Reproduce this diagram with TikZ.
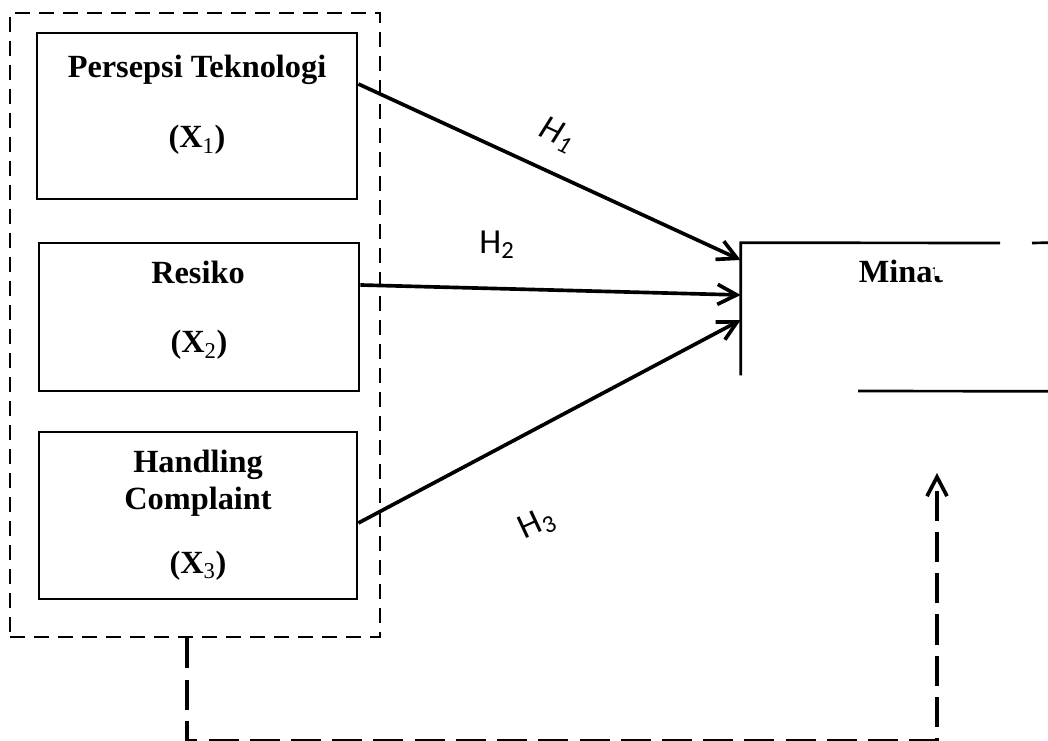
\documentclass[tikz,border=0pt]{standalone}
\usepackage{fontspec}
\setmainfont{Liberation Serif}
\newfontfamily\hfont{Carlito}
\usetikzlibrary{arrows.meta,positioning}

\tikzset{
  var box/.style={rectangle, draw=black, line width=1.9pt, inner sep=0pt},
  var line/.style={draw=black, line width=1.9pt},
  var text/.style={font=\fontsize{23}{27}\selectfont\bfseries, anchor=base, inner sep=0pt},
  group box/.style={rectangle, draw=black, line width=1.8pt, dash pattern=on 0.375cm off 0.225cm, inner sep=0pt},
  hyp arrow/.style={-{Straight Barb[length=4.8mm,width=5mm]}, draw=black, line width=2.6pt},
  hyp label/.style={font=\hfont\fontsize{25}{29}\selectfont, inner sep=0pt},
  feedback line/.style={-{Straight Barb[length=4.8mm,width=5mm]}, draw=black, line width=2.6pt, dash pattern=on 0.75cm off 0.28cm},
}

\begin{document}
\begin{tikzpicture}[x=0.025cm, y=-0.025cm]
    \useasboundingbox (0,0) rectangle (1048,741);
    % independent variables
    \node (x1) [var box, minimum width=8cm, minimum height=4.15cm] at (197,116) {};
    \node (x2) [var box, minimum width=8cm, minimum height=3.7cm] at (199,317) {};
    \node (x3) [var box, minimum width=7.95cm, minimum height=4.175cm] at (198,515.5) {};
    \node (x1name) [var text] at (197,78) {Persepsi Teknologi};
    \node (x1sym) [var text] at (197,148) {(X\textsubscript{\mdseries 1})};
    \node (x2name) [var text] at (198,284) {Resiko};
    \node (x2sym) [var text] at (199,353) {(X\textsubscript{\mdseries 2})};
    \node (x3name) [var text] at (198,473) {Handling};
    \node (x3name2) [var text] at (198,510) {Complaint};
    \node (x3sym) [var text] at (198,573) {(X\textsubscript{\mdseries 3})};
    \node (grp) [group box, minimum width=9.25cm, minimum height=15.6cm] at (195,325) {};
    % dependent variable
    \node (y) [inner sep=0pt, minimum width=7.675cm, minimum height=3.7cm] at (894.5,317) {};
    \node (yname) [var text] at (901,283) {Minat};
    \fill[white] (935,236) rectangle (1030,276);
    \draw[var line] ([yshift=0.4cm]y.south west) -- (y.north west) -- (1000,243);
    \draw[var line] (1032,243) -- (y.north east);
    \draw[var line] (858,391) -- (y.south east);
    % hypotheses
    \draw[hyp arrow] ([yshift=0.8cm]x1.east) -- ([yshift=1.425cm]y.west);
    \draw[hyp arrow] ([yshift=0.8cm]x2.east) -- ([yshift=0.55cm]y.west);
    \draw[hyp arrow] ([yshift=-0.1875cm]x3.east) -- ([yshift=-0.075cm]y.west);
    \node (h1) [hyp label, rotate=-25] at (557,135) {\itshape H\textsubscript{1}};
    \node (h2) [hyp label] at (497,245) {H\textsubscript{2}};
    \node (h3) [hyp label, rotate=25] at (537,524) {H\textsubscript{3}};
    % simultaneous effect
    \coordinate (fbtip) at (937,473);
    \draw[feedback line] ([xshift=-0.2cm]grp.south) -- ++(0,102) -| (fbtip);
\end{tikzpicture}
\end{document}
